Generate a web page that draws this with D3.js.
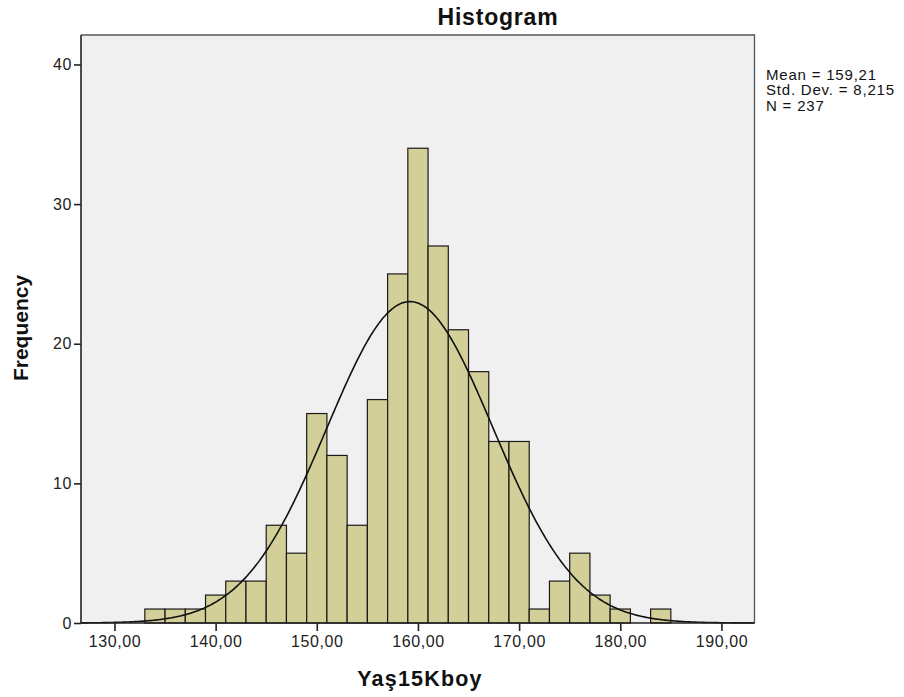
<!DOCTYPE html>
<html><head><meta charset="utf-8">
<script src="https://cdn.jsdelivr.net/npm/d3@7"></script>
<style>body{margin:0;background:#fff}svg{display:block;font-family:"Liberation Sans",Arial,sans-serif}</style>
</head><body>
<script>
const binStarts = [133,135,137,139,141,143,145,147,149,151,153,155,157,159,161,163,165,167,169,171,173,175,177,179,181,183];
const counts    = [1,1,1,2,3,3,7,5,15,12,7,16,25,34,27,21,18,13,13,1,3,5,2,1,0,1];
const binWidth = 2;
const xTicks = [130,140,150,160,170,180,190];
const yTicks = [0,10,20,30,40];
const stats = {mean:159.21, sd:8.215, n:237};
const statLines = ["Mean = 159,21","Std. Dev. = 8,215","N = 237"];

const W=904,H=697;
const L=81,R=754.5,T=35,B=623;
const svg=d3.select("body").append("svg").attr("width",W).attr("height",H);
const x=d3.scaleLinear().domain([126.69,193.27]).range([L,R]);
const y=d3.scaleLinear().domain([0,42.11]).range([B,T]);

svg.append("rect").attr("x",L).attr("y",T).attr("width",R-L).attr("height",B-T).attr("fill","#f0f0f0");
svg.append("path").attr("d",`M${L},${T}H${R}V${B}`).attr("fill","none").attr("stroke","#555").attr("stroke-width",1.3);

const data=binStarts.map((s,i)=>({s,c:counts[i]}));
svg.append("g").selectAll("rect").data(data.filter(d=>d.c>0)).join("rect")
  .attr("x",d=>x(d.s)).attr("width",d=>x(d.s+binWidth)-x(d.s))
  .attr("y",d=>y(d.c)).attr("height",d=>y(0)-y(d.c))
  .attr("fill","#d3cf98").attr("stroke","#1a1a1a").attr("stroke-width",1.2);

const pts=d3.range(0,401).map(i=>{const v=126.69+(193.27-126.69)*i/400;
  const f=stats.n*binWidth/(stats.sd*Math.sqrt(2*Math.PI))*Math.exp(-0.5*((v-stats.mean)/stats.sd)**2);return [v,f];});
svg.append("path").datum(pts).attr("d",d3.line().x(d=>x(d[0])).y(d=>y(d[1])).curve(d3.curveBasis))
  .attr("fill","none").attr("stroke","#111").attr("stroke-width",1.6);

const xa=svg.append("g").attr("transform",`translate(0,${B})`).call(d3.axisBottom(x).tickValues(xTicks).tickSize(8).tickPadding(5).tickFormat(d=>d.toFixed(2).replace(".",",")));
const ya=svg.append("g").attr("transform",`translate(${L},0)`).call(d3.axisLeft(y).tickValues(yTicks).tickSize(7).tickPadding(2));
[xa,ya].forEach(a=>{a.select(".domain").attr("stroke","#222").attr("stroke-width",1.6);
  a.selectAll(".tick line").attr("stroke","#222").attr("stroke-width",1.6);
  a.selectAll("text").attr("font-size",16).attr("letter-spacing",0.6).attr("fill","#222").attr("font-family","'Liberation Sans',Arial,sans-serif");});
xa.select(".domain").attr("d",`M${L},0H${R}`);
ya.select(".domain").attr("d",`M0,${B}V${T}`);

svg.append("text").attr("x",498).attr("y",25).attr("text-anchor","middle").attr("font-size",23).attr("letter-spacing",0.8).attr("font-weight","bold").attr("fill","#111").text("Histogram");
svg.append("text").attr("x",420).attr("y",686).attr("text-anchor","middle").attr("font-size",21.5).attr("letter-spacing",1.2).attr("font-weight","bold").attr("fill","#111").text("Yaş15Kboy");
svg.append("text").attr("transform",`translate(28,328) rotate(-90)`).attr("text-anchor","middle").attr("font-size",21).attr("font-weight","bold").attr("fill","#111").text("Frequency");
svg.append("g").selectAll("text").data(statLines).join("text").attr("x",766).attr("y",(d,i)=>80+i*15.4)
  .attr("font-size",15).attr("letter-spacing",0.8).attr("fill","#111").text(d=>d);
</script></body></html>
